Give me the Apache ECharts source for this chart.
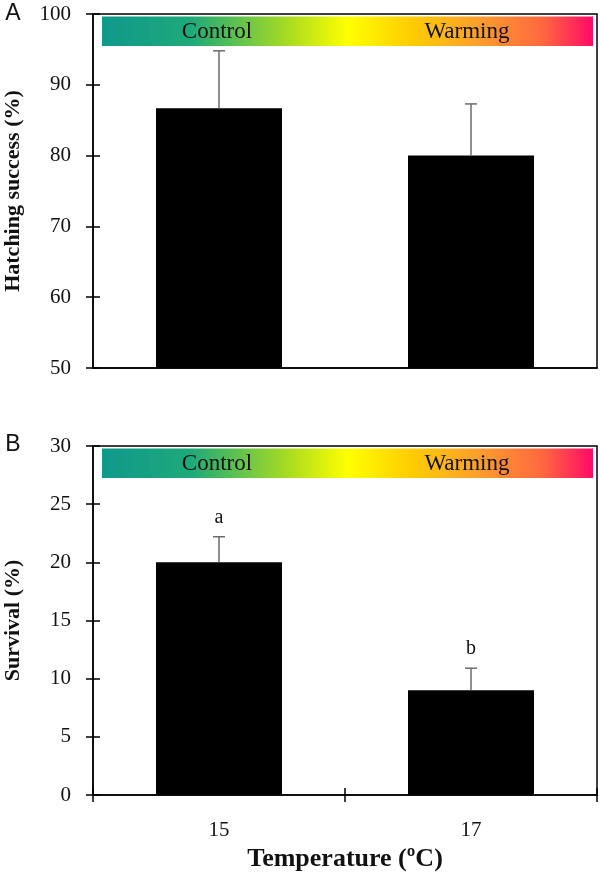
<!DOCTYPE html>
<html><head><meta charset="utf-8">
<script src="https://cdn.jsdelivr.net/npm/echarts@6/dist/echarts.min.js"></script>
<style>html,body{margin:0;padding:0;background:#fff}#c{width:600px;height:879px}</style>
</head><body><div id="c"></div>
<script>
// ---- data ----
const categories = ['15', '17'];
const hatchMean = [86.7, 80.0];
const hatchErr = [8.1, 7.3];
const survMean = [20.0, 9.0];
const survErr = [2.2, 1.9];
const survLetters = ['a', 'b'];
const bandLabels = ['Control', 'Warming'];
const panelLabels = ['A', 'B'];
const hatchAxis = { min: 50, max: 100, interval: 10 };
const survAxis = { min: 0, max: 30, interval: 5 };

// ---- styles ----
const SERIF = '"Liberation Serif", "Times New Roman", serif';
const SANS = '"Liberation Sans", Arial, sans-serif';
const gridA = { left: 93, top: 14, width: 504, height: 354 };
const gridB = { left: 93, top: 446, width: 504, height: 349 };
const errColor = '#6b6b6b';

const chart = echarts.init(document.getElementById('c'), null, { renderer: 'canvas' });

function errRender(letters) {
  return function (params, api) {
    const x = api.value(0), v = api.value(1), e = api.value(2);
    const p0 = api.coord([x, v]);
    const p1 = api.coord([x, v + e]);
    const st = { stroke: errColor, lineWidth: 1.5 };
    const children = [
      { type: 'line', shape: { x1: p0[0], y1: p0[1], x2: p1[0], y2: p1[1] }, style: st },
      { type: 'line', shape: { x1: p1[0] - 6, y1: p1[1], x2: p1[0] + 6, y2: p1[1] }, style: st }
    ];
    if (letters) {
      children.push({ type: 'text', x: p1[0], y: p1[1] - 19,
        style: { text: letters[params.dataIndex], font: '20px ' + SERIF, fill: '#111', align: 'center', verticalAlign: 'middle' } });
    }
    return { type: 'group', children };
  };
}

function band(g) {
  const x0 = g.left + 9, w = 491, y0 = g.top + 2.5, h = 29.5;
  const grad = new echarts.graphic.LinearGradient(0, 0, 1, 0, [
    { offset: 0, color: '#0f998c' },
    { offset: 0.18, color: '#1ea97a' },
    { offset: 0.38, color: '#a9dc20' },
    { offset: 0.5, color: '#ffff00' },
    { offset: 0.62, color: '#ffd000' },
    { offset: 0.76, color: '#ffa12c' },
    { offset: 0.9, color: '#ff6640' },
    { offset: 1, color: '#ff0a66' }
  ]);
  return [
    { type: 'rect', shape: { x: x0, y: y0, width: w, height: h }, style: { fill: grad }, z: 5 },
    { type: 'text', x: 217, y: y0 + h / 2 + 1, z: 6,
      style: { text: bandLabels[0], font: '23px ' + SERIF, fill: '#111', align: 'center', verticalAlign: 'middle' } },
    { type: 'text', x: 467, y: y0 + h / 2 + 1, z: 6,
      style: { text: bandLabels[1], font: '23px ' + SERIF, fill: '#111', align: 'center', verticalAlign: 'middle' } }
  ];
}

const axisLine = { show: true, lineStyle: { color: '#000', width: 1.5 } };
const tickLbl = { fontFamily: SERIF, fontSize: 21, color: '#111' };

function yAxes(g, ax, name, gi) {
  return [
    { gridIndex: gi, type: 'value', min: ax.min, max: ax.max, interval: ax.interval, position: 'left',
      name: name, nameLocation: 'middle', nameGap: 69,
      nameTextStyle: { fontFamily: SERIF, fontSize: 22, fontWeight: 'bold', color: '#111' },
      axisLine: axisLine, axisTick: { show: true, inside: false, length: 7, lineStyle: { color: '#000', width: 1.5 } },
      axisLabel: Object.assign({ margin: 22 }, tickLbl), splitLine: { show: false } },
    { gridIndex: gi, type: 'value', min: ax.min, max: ax.max, interval: ax.interval, position: 'left',
      axisLine: { show: false }, axisTick: { show: true, inside: true, length: 7, lineStyle: { color: '#000', width: 1.5 } },
      axisLabel: { show: false }, splitLine: { show: false } }
  ];
}

const gridBase = { show: true, borderColor: '#000', borderWidth: 1.5, backgroundColor: 'transparent',
  containLabel: false, outerBoundsMode: 'none' };

const option = {
  animation: false,
  backgroundColor: '#fff',
  grid: [
    Object.assign({}, gridBase, gridA),
    Object.assign({}, gridBase, gridB)
  ],
  xAxis: [
    { gridIndex: 0, type: 'category', data: categories, position: 'bottom',
      axisLine: axisLine, axisTick: { show: false }, axisLabel: { show: false } },
    { gridIndex: 1, type: 'category', data: categories, position: 'bottom',
      name: 'Temperature (ºC)', nameLocation: 'middle', nameGap: 51,
      nameTextStyle: { fontFamily: SERIF, fontSize: 26, fontWeight: 'bold', color: '#111' },
      axisLine: axisLine, axisTick: { show: true, inside: false, length: 7, lineStyle: { color: '#000', width: 1.5 } },
      axisLabel: Object.assign({ margin: 25 }, tickLbl) },
    { gridIndex: 1, type: 'category', data: categories, position: 'bottom',
      axisLine: { show: false }, axisTick: { show: true, inside: true, length: 7, lineStyle: { color: '#000', width: 1.5 } },
      axisLabel: { show: false } }
  ],
  yAxis: [].concat(
    yAxes(gridA, hatchAxis, 'Hatching success (%)', 0),
    yAxes(gridB, survAxis, 'Survival (%)', 1)
  ),
  series: [
    { type: 'bar', xAxisIndex: 0, yAxisIndex: 0, data: hatchMean, barWidth: '50%',
      itemStyle: { color: '#000' }, z: 2 },
    { type: 'custom', xAxisIndex: 0, yAxisIndex: 0, renderItem: errRender(null),
      data: categories.map((c, i) => [i, hatchMean[i], hatchErr[i]]), encode: { x: 0, y: 1 }, z: 3 },
    { type: 'bar', xAxisIndex: 1, yAxisIndex: 2, data: survMean, barWidth: '50%',
      itemStyle: { color: '#000' }, z: 2 },
    { type: 'custom', xAxisIndex: 1, yAxisIndex: 2, renderItem: errRender(survLetters),
      data: categories.map((c, i) => [i, survMean[i], survErr[i]]), encode: { x: 0, y: 1 }, z: 3 }
  ],
  graphic: [].concat(
    band(gridA), band(gridB),
    [
      { type: 'text', x: 13, y: 14, style: { text: panelLabels[0], font: '23px ' + SANS, fill: '#111', align: 'center', verticalAlign: 'middle' } },
      { type: 'text', x: 13, y: 445, style: { text: panelLabels[1], font: '23px ' + SANS, fill: '#111', align: 'center', verticalAlign: 'middle' } }
    ]
  )
};
chart.setOption(option);
</script>
</body></html>
